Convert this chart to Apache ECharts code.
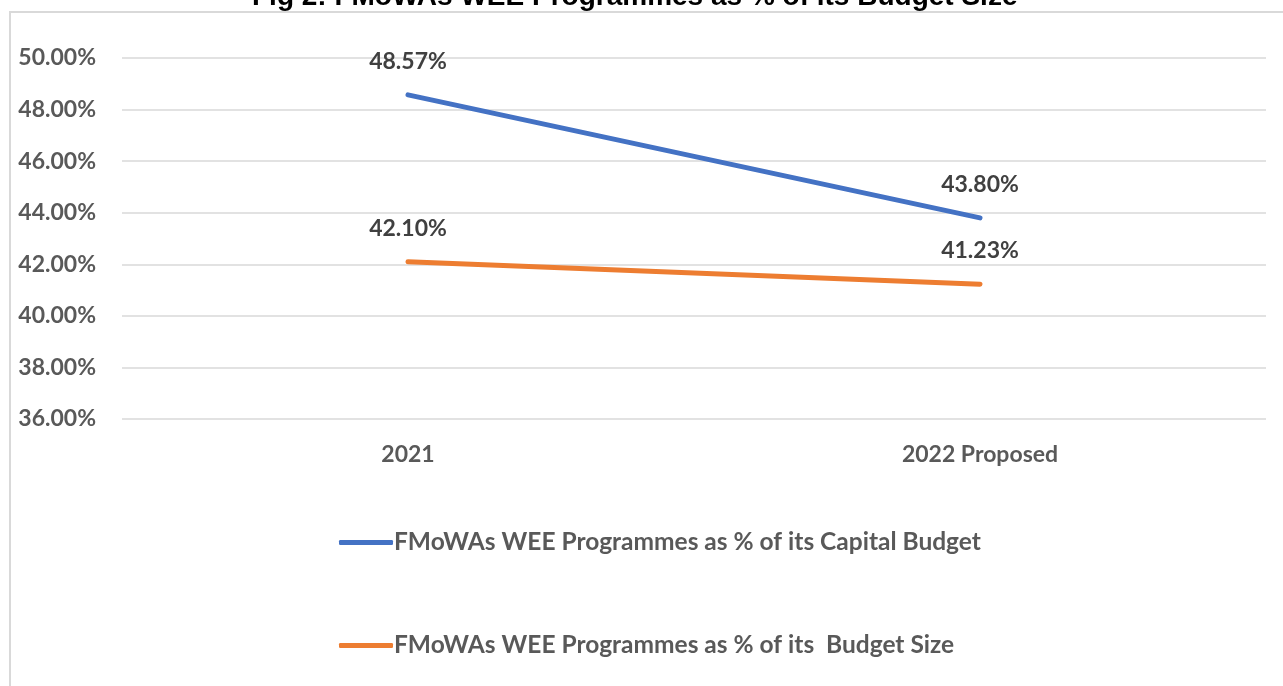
<!DOCTYPE html>
<html>
<head>
<meta charset="utf-8">
<script src="https://cdn.jsdelivr.net/npm/echarts@6/dist/echarts.min.js"></script>
<style>
  html, body { margin: 0; padding: 0; background: #fff; }
  #chart { width: 1283px; height: 686px; }
</style>
</head>
<body>
<div id="chart"></div>
<script>
const titleText = "Fig 2: FMoWAs WEE Programmes as % of its Budget Size";
const categories = ["2021", "2022 Proposed"];
const capitalShare = [48.57, 43.8];
const budgetShare = [42.1, 41.23];
const seriesNames = [
  "FMoWAs WEE Programmes as % of its Capital Budget",
  "FMoWAs WEE Programmes as % of its  Budget Size"
];

const chart = echarts.init(document.getElementById("chart"));

const fontFamily = "Lato, 'Open Sans', sans-serif";

const labelStyle = {
  show: true,
  position: "top",
  distance: 22,
  fontFamily: fontFamily,
  fontWeight: "bold",
  fontSize: 23,
  color: "#404040",
  formatter: (p) => p.value.toFixed(2) + "%"
};

const option = {
  animation: false,
  backgroundColor: "#ffffff",
  graphic: [
    {
      type: "rect",
      shape: { x: 10, y: 12, width: 1290, height: 700 },
      style: { fill: "none", stroke: "#d9d9d9", lineWidth: 2 },
      silent: true
    },
    {
      type: "text",
      left: 252,
      top: -17,
      style: {
        text: titleText,
        font: "bold 28px 'Liberation Sans', Arial, sans-serif",
        fill: "#000000"
      }
    }
  ],
  grid: {
    left: 122,
    right: 17,
    top: 58,
    bottom: 267
  },
  legend: {
    orient: "vertical",
    left: 334,
    top: 525,
    itemGap: 78,
    itemWidth: 54,
    itemHeight: 5,
    icon: "roundRect",
    textStyle: {
      fontFamily: fontFamily,
      fontWeight: "bold",
      fontSize: 24.5,
      color: "#595959",
      padding: [0, 0, 0, -4]
    },
    data: seriesNames
  },
  xAxis: {
    type: "category",
    data: categories,
    boundaryGap: true,
    axisLine: { show: false },
    axisTick: { show: false },
    axisLabel: {
      margin: 24,
      fontFamily: fontFamily,
      fontWeight: "bold",
      fontSize: 23,
      color: "#595959"
    }
  },
  yAxis: {
    type: "value",
    min: 36,
    max: 50,
    interval: 2,
    axisLine: { show: false },
    axisTick: { show: false },
    splitLine: { lineStyle: { color: "#d9d9d9", width: 1.5 } },
    axisLabel: {
      margin: 26,
      fontFamily: fontFamily,
      fontWeight: "bold",
      fontSize: 23,
      color: "#595959",
      formatter: (v) => v.toFixed(2) + "%"
    }
  },
  series: [
    {
      name: seriesNames[0],
      type: "line",
      data: capitalShare,
      symbol: "circle",
      symbolSize: 0,
      color: "#4472c4",
      lineStyle: { color: "#4472c4", width: 5, cap: "round" },
      label: labelStyle
    },
    {
      name: seriesNames[1],
      type: "line",
      data: budgetShare,
      symbol: "circle",
      symbolSize: 0,
      color: "#ed7d31",
      lineStyle: { color: "#ed7d31", width: 5, cap: "round" },
      label: labelStyle
    }
  ]
};

chart.setOption(option);

window.addEventListener("resize", () => chart.resize());
</script>
</body>
</html>
